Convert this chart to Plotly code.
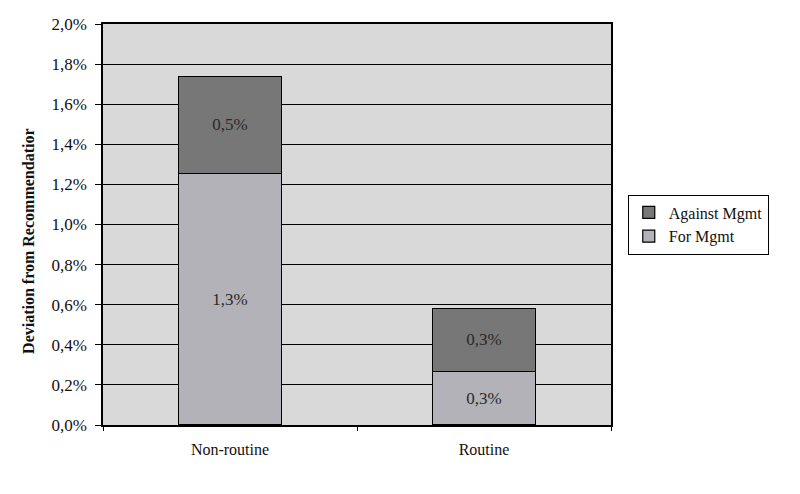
import plotly.graph_objects as go

categories = ["Non-routine", "Routine"]
for_mgmt = [0.01255, 0.00266]
against_mgmt = [0.00484, 0.00316]
series_names = ["For Mgmt", "Against Mgmt"]
y_title = "Deviation from Recommendatior"

FONT = "Liberation Serif, Times New Roman, serif"

fig = go.Figure()
fig.add_trace(go.Bar(
    x=categories, y=for_mgmt, name=series_names[0],
    marker=dict(color="#b2b2b8", line=dict(color="#000000", width=1.2)),
    texttemplate="%{y:.1%}", textposition="inside", insidetextanchor="middle",
    textfont=dict(family=FONT, size=17, color="#2a2a2a"),
))
fig.add_trace(go.Bar(
    x=categories, y=against_mgmt, name=series_names[1],
    marker=dict(color="#777777", line=dict(color="#000000", width=1.2)),
    texttemplate="%{y:.1%}", textposition="inside", insidetextanchor="middle",
    textfont=dict(family=FONT, size=17, color="#2a2a2a"),
))

fig.update_layout(
    width=800, height=494,
    barmode="stack", bargap=0.594,
    separators=",.",
    paper_bgcolor="white", plot_bgcolor="#d9d9d9",
    margin=dict(l=95, r=197, t=16, b=77, autoexpand=False),
    font=dict(family=FONT, size=16, color="#111111"),
    legend=dict(
        x=1.033, y=0.50, xanchor="left", yanchor="middle",
        traceorder="reversed",
        bordercolor="#000000", borderwidth=1, bgcolor="white",
        font=dict(family=FONT, size=16, color="#111111"),
        itemwidth=30, tracegroupgap=0,
    ),
    showlegend=True,
    annotations=[dict(
        text="<b>" + y_title + "</b>", textangle=-90,
        xref="paper", yref="paper", x=-0.1457, y=0.459,
        xanchor="center", yanchor="middle", showarrow=False,
        font=dict(family=FONT, size=16, color="#111111"),
    )],
)
fig.update_yaxes(
    range=[0, 0.02], dtick=0.002, tickformat=".1%",
    showgrid=True, gridcolor="#000000", gridwidth=1.3,
    showline=True, linecolor="#000000", linewidth=1.5, mirror=True,
    ticks="outside", ticklen=6, tickcolor="#000000",
    ticklabelstandoff=5,
    zeroline=False,
    tickfont=dict(family=FONT, size=17, color="#111111"),
)
fig.update_xaxes(
    showline=True, linecolor="#000000", linewidth=1.5, mirror=True,
    ticks="outside", tickson="boundaries", ticklen=4, tickcolor="#000000",
    ticklabelstandoff=9,
    tickfont=dict(family=FONT, size=16, color="#111111"),
    showgrid=False,
)

fig.write_html("out.html")
